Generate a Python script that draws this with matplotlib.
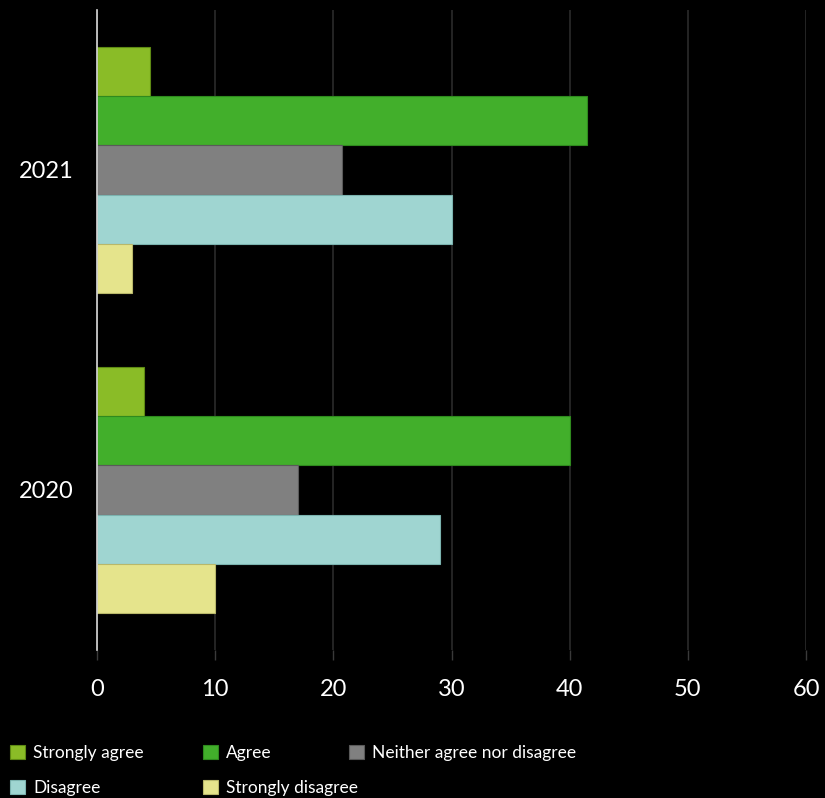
import matplotlib
matplotlib.use("Agg")
import matplotlib.pyplot as plt
import numpy as np

years = ["2020", "2021"]
categories = ["Strongly agree", "Agree", "Neither agree nor disagree", "Disagree", "Strongly disagree"]
values = {
    "Strongly agree": [4.0, 4.5],
    "Agree": [40.0, 41.5],
    "Neither agree nor disagree": [17.0, 20.7],
    "Disagree": [29.0, 30.0],
    "Strongly disagree": [10.0, 3.0],
}
colors = {
    "Strongly agree": "#8ABC27",
    "Agree": "#42AF2B",
    "Neither agree nor disagree": "#808080",
    "Disagree": "#9FD5D1",
    "Strongly disagree": "#E5E48C",
}
edges = {
    "Strongly agree": "#5E8A14",
    "Agree": "#2F8A1E",
    "Neither agree nor disagree": "#5A5A5A",
    "Disagree": "#7BB3AF",
    "Strongly disagree": "#B9B86A",
}
xticks = [0, 10, 20, 30, 40, 50, 60]

plt.rcParams['font.family'] = ['Lato', 'DejaVu Sans']

fig = plt.figure(figsize=(8.25, 7.98), dpi=100, facecolor="black")
ax = fig.add_axes([97/825, 1-650/798, (806-97)/825, 640/798])
ax.set_facecolor("black")

h = 0.154
y = np.arange(len(years))
offsets = [2, 1, 0, -1, -2]
handles = {}
for cat, off in zip(categories, offsets):
    b = ax.barh(y + off*h, values[cat], height=h, color=colors[cat],
                edgecolor=edges[cat], linewidth=0.8, label=cat, zorder=3)
    handles[cat] = b

ax.set_xlim(0, 60)
ax.set_ylim(-0.5, 1.5)
ax.set_xticks(xticks)
ax.set_xticklabels([str(t) for t in xticks], color="white", fontsize=17)
ax.set_yticks(y)
ax.set_yticklabels(years, color="white", fontsize=17)
ax.tick_params(axis="y", length=0, pad=17)
ax.tick_params(axis="x", length=7, width=1, color="#3a3a3a", pad=14)
ax.xaxis.grid(True, color="#252525", linewidth=1.4, zorder=0)
ax.set_axisbelow(True)
for s in ["top", "right", "bottom"]:
    ax.spines[s].set_visible(False)
ax.spines["left"].set_color("#d9d9d9")
ax.spines["left"].set_linewidth(1.2)
ax.spines["left"].set_zorder(4)

cols = [(10, ["Strongly agree", "Disagree"]),
        (203, ["Agree", "Strongly disagree"]),
        (349, ["Neither agree nor disagree"])]
for xpx, cats in cols:
    leg = fig.legend([handles[c] for c in cats], cats, loc="upper left",
                     bbox_to_anchor=(xpx/825, 1-745/798), frameon=False,
                     fontsize=12.5, labelcolor="white", handlelength=0.86,
                     handleheight=0.86, handletextpad=0.46, labelspacing=1.1,
                     borderaxespad=0, borderpad=0)

fig.savefig("out.png", dpi=100, facecolor="black")
